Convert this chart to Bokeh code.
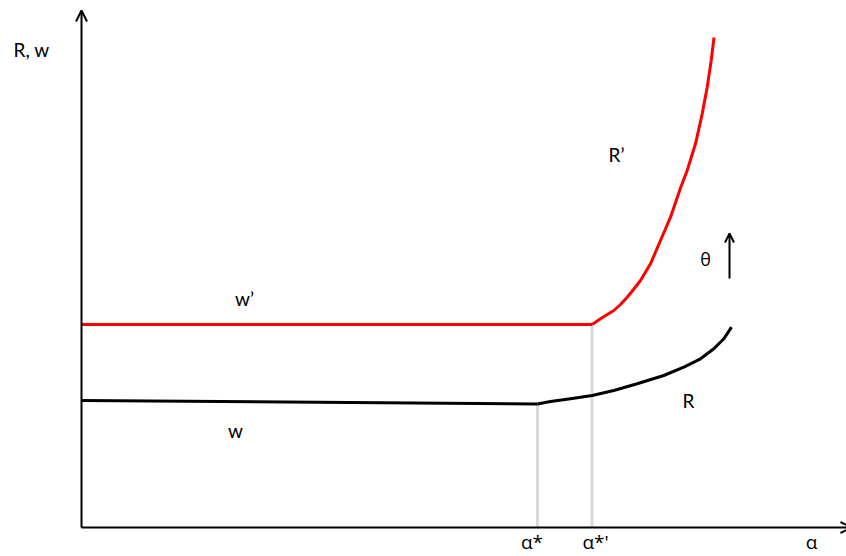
from bokeh.plotting import figure
from bokeh.models import Range1d, Arrow, OpenHead
from bokeh.core.properties import value
from bokeh.embed import file_html
from bokeh.resources import INLINE

# ---- data (abstract units: alpha along x, R/w along y) ----
w_alpha = [0, 456]
w_vals = [127, 123.5]

R_alpha = [456, 469, 489, 510.7, 532.3, 555.7, 582.3, 602.3, 619, 632.3, 642.3, 650]
R_vals = [123.5, 126, 128.7, 132, 137, 143.7, 152, 160.3, 168.7, 178.7, 188.7, 200.3]

wp_alpha = [0, 510.5]
wp_vals = [203, 203]

Rp_alpha = [510.5, 515, 519, 525, 532.3, 539, 545.7, 552, 559, 569, 579, 589, 599,
            605.7, 614, 620.7, 625.7, 629.7, 632.5]
Rp_vals = [203, 206, 208.7, 212.5, 217, 223, 230.3, 238, 247, 263.7, 287, 310.3,
           339.5, 357, 383.7, 413.7, 440.3, 467, 490]

alpha_star = 456
alpha_star_p = 510.5

# label texts
tick_labels = ["α*", "α*'"]
tick_pos = [450.5, 514]
axis_x_label = "α"
axis_y_label = "R, w"

ann_text = ["w’", "w", "R’", "R", "θ"]
ann_x = [163, 154, 535, 607, 624]
ann_y = [229, 97, 373, 127, 269]

p = figure(width=846, height=556, output_backend="svg", toolbar_location=None,
           x_range=Range1d(-81, 765), y_range=Range1d(-29, 527),
           min_border=0)
p.axis.visible = False
p.grid.visible = False
p.outline_line_color = None
p.background_fill_color = "white"

# guide lines
p.segment(x0=[alpha_star, alpha_star_p], y0=[0, 0],
          x1=[alpha_star, alpha_star_p], y1=[w_vals[-1], wp_vals[-1]],
          line_color="#d9d9d9", line_width=3)

# curves
p.line(w_alpha, w_vals, line_color="black", line_width=3, line_join="round")
p.line(R_alpha, R_vals, line_color="black", line_width=3, line_join="round")
p.line(wp_alpha, wp_vals, line_color="#ff0000", line_width=3, line_join="round")
p.line(Rp_alpha, Rp_vals, line_color="#ff0000", line_width=3, line_join="round")

# axes as arrows
p.add_layout(Arrow(end=OpenHead(size=11, line_width=2, line_color="black"),
                   x_start=0, y_start=0, x_end=0, y_end=517,
                   line_width=2, line_color="black"))
p.add_layout(Arrow(end=OpenHead(size=11, line_width=2, line_color="black"),
                   x_start=0, y_start=0, x_end=770, y_end=0,
                   line_width=2, line_color="black"))

# theta arrow
p.add_layout(Arrow(end=OpenHead(size=9, line_width=2, line_color="black"),
                   x_start=648, y_start=249, x_end=648, y_end=294,
                   line_width=2, line_color="black"))

font = value("Lato")
gfont = value("Open Sans")
p.text(x=ann_x[:4], y=ann_y[:4], text=ann_text[:4], text_font=font,
       text_font_size="19px", text_align="center", text_baseline="middle",
       text_color="black")
p.text(x=ann_x[4:], y=ann_y[4:], text=ann_text[4:], text_font=gfont,
       text_font_size="18px", text_align="center", text_baseline="middle",
       text_color="black")

p.text(x=tick_pos, y=[-27, -27], text=tick_labels, text_font=gfont,
       text_font_size="19px", text_align="center", text_baseline="bottom",
       text_color="black")
p.text(x=[730], y=[-27], text=[axis_x_label], text_font=gfont,
       text_font_size="19px", text_align="center", text_baseline="bottom",
       text_color="black")
p.text(x=[-50], y=[478], text=[axis_y_label], text_font=font,
       text_font_size="19px", text_align="center", text_baseline="middle",
       text_color="black")

open("out.html", "w").write(file_html(p, INLINE))
